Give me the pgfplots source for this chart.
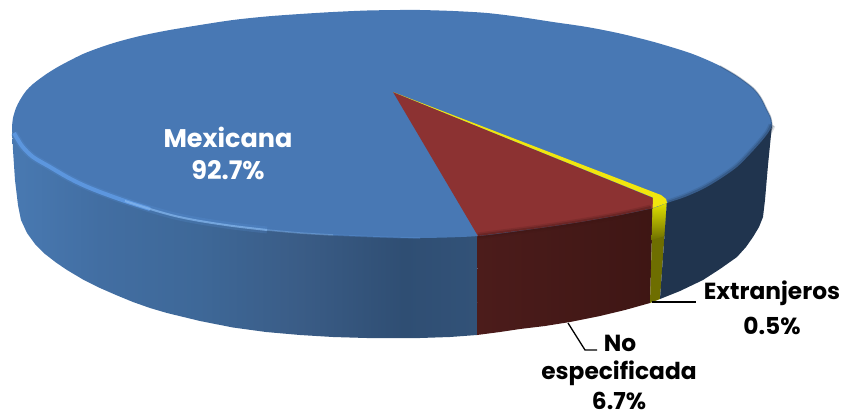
\documentclass[border=0pt]{standalone}
\usepackage{fontspec}
\setmainfont{Poppins}
\usepackage{pgfplots}
\pgfplotsset{compat=1.18}

\definecolor{topblue}{RGB}{72,120,180}
\definecolor{sideA}{RGB}{72,120,176}
\definecolor{sideB}{RGB}{66,110,162}
\definecolor{sideC}{RGB}{62,104,152}
\definecolor{sideD}{RGB}{58,92,134}
\definecolor{sideE}{RGB}{47,78,115}
\definecolor{sideF}{RGB}{50,82,120}
\definecolor{darkblue}{RGB}{32,52,78}
\definecolor{topred}{RGB}{140,50,50}
\definecolor{sideredA}{RGB}{76,28,27}
\definecolor{sideredB}{RGB}{62,22,20}
\definecolor{olive}{RGB}{110,110,0}
\definecolor{glow}{RGB}{92,150,222}
\definecolor{bright}{RGB}{135,185,240}

\pgfdeclarehorizontalshading{sideblue}{100bp}{
  color(0bp)=(sideA); color(26bp)=(sideA); color(34.5bp)=(sideB);
  color(45bp)=(sideC); color(56bp)=(sideD); color(67bp)=(sideE);
  color(75bp)=(sideF); color(100bp)=(sideF)}

\tikzset{
  lab/.style={font=\fontsize{23.3}{27}\selectfont\bfseries, inner sep=0pt},
  labw/.style={font=\fontsize{25.5}{29}\selectfont\bfseries, inner sep=0pt, text=white}
}

\begin{document}
\begin{tikzpicture}
\begin{axis}[
    hide axis, scale only axis,
    width=845pt, height=418pt,
    xmin=0, xmax=845, ymin=0, ymax=418,
    y dir=reverse, clip=false
]
% keeps the page as large as the axis
\path[use as bounding box] (axis cs:0,0) rectangle (axis cs:845,418);
% blue side
\addplot[draw=none, shading=sideblue, shade] coordinates {
 (12,127)(13,150)(15,180)(18,205)(21,220)(27,233)(35,244)(45,254)(56,262.5)(67,270)
 (83,279.5)(100,288)(116,295)(133,302)(150,308)(167,313)(200,321)(233,327.5)(266,332)
 (300,335)(333,337)(367,338)(400,338.2)(420,338)(450,337)(477,335)(478,200)(300,200)(100,150)
} -- cycle;
% red side
\addplot[draw=none, left color=sideredA, right color=sideredB] coordinates {
 (477,335)(500,332)(520,329)(545,326)(570,322)(600,316)(625,310)(650,303)(653,200)(478,200)
} -- cycle;
% yellow side
\addplot[draw=none, fill=olive] coordinates {(650,303)(660,299)(667,200)(653,200)} -- cycle;
\addplot[draw=none, top color=yellow!92!black, bottom color=olive] coordinates {(652.6,205)(666.6,200)(665,236)(651.6,240)} -- cycle;
% dark right side
\addplot[draw=none, fill=darkblue] coordinates {
 (660,299)(680,291)(703,280)(720,269)(737,257)(746,247)(753,237)(759,227)(763,217)
 (765,200)(768,165)(772,125)(700,125)(667,200)
} -- cycle;
% top face
\addplot[draw=none, fill=topblue, smooth, tension=.5] coordinates {
 (12,127)(13,118)(16,108)(20,100)(26,91)(33,84)(45,75)(56,68)(67,62)(83,54)(100,47.5)
 (117,42)(140,36)(167,30.5)(200,25)(233,20)(266,16.5)(300,14)(333,12)(367,10.5)(400,10)
 (420,10)(453,11)(487,13)(520,17)(553,22)(587,27)(620,33.5)(654,42)(687,52)(705,59)
 (720,66)(737,76)(753,88)(761,98)(767,110)(770.5,117)(772,125)
 (768,133)(760,143)(750,154)(737,167)(720,179)(703,189)(685,197)(667,203)(653,208)
 (620,215)(580,222)(540,228)(478,236)(420,238)(380,237)(333,235)(300,233)(267,230)
 (233,226)(200,221)(175,216)(150,209)(125,201)(100,192)(83,185)(67,177)(50,167)
 (33,157)(22,146)(15,137)
} -- cycle;
% red and yellow wedges
\addplot[draw=none, fill=topred] coordinates {
 (393,92)(478,236)(540,228)(580,222)(620,215)(653,208)(653,198)
} -- cycle;
\addplot[draw=none, fill=yellow!94!black] coordinates {
 (393,92)(653,197.5)(652.6,208)(667,203)(666,199)(661,195)
} -- cycle;
% soft edge of the bevel
\addplot[draw=darkblue, line width=7pt, opacity=.16, smooth] coordinates {
 (772,125)(768,133)(760,143)(750,154)(737,167)(720,179)(703,189)(685,197)(668,203)};
\addplot[draw=darkblue, line width=4pt, opacity=.3, smooth] coordinates {
 (772,125)(768,133)(760,143)(750,154)(737,167)(720,179)(703,189)(685,197)(668,203)};
\addplot[draw=sideredB, line width=7pt, opacity=.16, smooth] coordinates {
 (478,236)(540,228)(580,222)(620,215)(651,208)};
\addplot[draw=sideredB, line width=4pt, opacity=.3, smooth] coordinates {
 (478,236)(540,228)(580,222)(620,215)(651,208)};
\addplot[draw=darkblue, line width=1.5pt, opacity=.3, smooth] coordinates {
 (720,66)(737,76)(753,88)(761,98)(767,110)(770.5,117)(772,125)};
% highlight on the left rim
\addplot[draw=glow, line width=7pt, opacity=.2, smooth] coordinates {
 (14,133)(22,146)(33,157)(50,167)(67,177)(83,185)(100,192)(125,201)(150,209)
 (175,216)(200,221)(233,226)(267,230)};
\addplot[draw=glow, line width=4pt, smooth] coordinates {
 (14,133)(22,146)(33,157)(50,167)(67,177)(83,185)(100,192)(125,201)(150,209)};
\addplot[draw=bright, line width=2pt, opacity=.7, smooth] coordinates {
 (125,201)(150,209)(175,216)(200,221)(233,226)(267,230)};
\addplot[draw=bright, line width=1.5pt, opacity=.4, smooth] coordinates {
 (267,230)(300,233)(333,235)};
\addplot[draw=glow, line width=1.5pt, opacity=.3, smooth] coordinates {
 (333,235)(380,237)(420,238)};
% leader lines
\addplot[draw=black, line width=1.3pt] coordinates {(652,302)(696,302)};
\addplot[draw=black, line width=1.3pt] coordinates {(568,323)(585,350)(597,350)};
% labels
\node[labw] at (axis cs:228,137) {Mexicana};
\node[labw] at (axis cs:228,170) {92.7\%};
\node[lab] at (axis cs:772,293) {Extranjeros};
\node[lab] at (axis cs:772,326) {0.5\%};
\node[lab] at (axis cs:620,343) {No};
\node[lab] at (axis cs:619,373) {especificada};
\node[lab] at (axis cs:619,401) {6.7\%};
\end{axis}
\end{tikzpicture}
\end{document}
